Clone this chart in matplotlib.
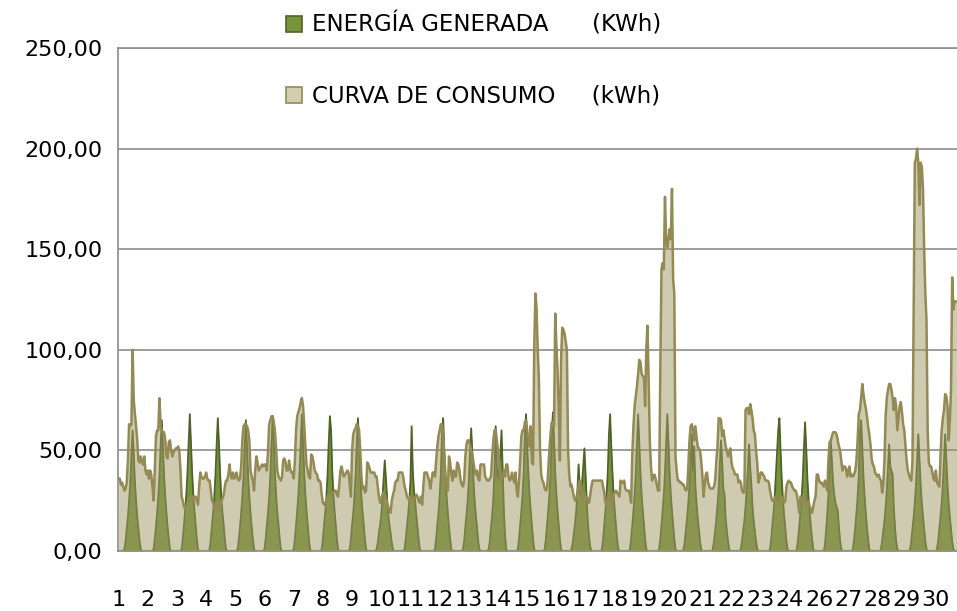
"""
Energía generada frente a curva de consumo, 30 días en resolución horaria.
"""

import numpy as np
import matplotlib
matplotlib.use("Agg")
import matplotlib.pyplot as plt
from matplotlib.patches import Patch

# ------------------------------------------------------------------
# valores horarios (kWh), una fila por día
generada = [
    0, 0, 0, 0, 0, 1, 5, 11, 17, 25, 34, 48, 60, 48, 34, 25, 17, 11, 5, 1, 0, 0, 0, 0,     # 1
    0, 0, 0, 0, 0, 0, 1, 6, 12, 19, 27, 37, 52, 65, 52, 37, 27, 19, 12, 6, 1, 0, 0, 0,     # 2
    0, 0, 0, 0, 0, 0, 1, 6, 13, 20, 28, 39, 54, 68, 54, 39, 28, 20, 13, 6, 1, 0, 0, 0,     # 3
    0, 0, 0, 0, 0, 0, 1, 6, 13, 19, 27, 38, 53, 66, 53, 38, 27, 19, 13, 6, 1, 0, 0, 0,     # 4
    0, 0, 0, 0, 0, 0, 1, 6, 12, 19, 27, 37, 52, 65, 52, 37, 27, 19, 12, 6, 1, 0, 0, 0,     # 5
    0, 0, 0, 0, 0, 1, 6, 13, 19, 27, 38, 54, 67, 54, 38, 27, 19, 13, 6, 1, 0, 0, 0, 0,     # 6
    0, 0, 0, 0, 0, 0, 1, 6, 13, 20, 28, 39, 54, 68, 54, 39, 28, 20, 13, 6, 1, 0, 0, 0,     # 7
    0, 0, 0, 0, 0, 0, 1, 6, 13, 19, 27, 38, 54, 67, 60, 40, 28, 20, 13, 6, 1, 0, 0, 0,     # 8
    0, 0, 0, 0, 0, 0, 1, 6, 13, 19, 27, 38, 53, 66, 53, 38, 27, 19, 13, 6, 1, 0, 0, 0,     # 9
    0, 0, 0, 0, 0, 1, 4, 9, 13, 18, 26, 36, 45, 36, 26, 18, 13, 9, 4, 1, 0, 0, 0, 0,       # 10
    0, 0, 0, 0, 0, 1, 6, 12, 18, 25, 35, 62, 40, 30, 25, 18, 12, 6, 1, 0, 0, 0, 0, 0,      # 11
    0, 0, 0, 0, 0, 0, 0, 1, 6, 13, 19, 27, 38, 58, 66, 50, 36, 27, 19, 12, 6, 1, 0, 0,     # 12
    0, 0, 0, 0, 0, 0, 0, 1, 5, 12, 18, 25, 35, 49, 61, 49, 35, 25, 18, 12, 5, 1, 0, 0,     # 13
    0, 0, 0, 0, 0, 1, 5, 12, 18, 26, 40, 62, 42, 36, 40, 48, 60, 40, 20, 8, 1, 0, 0, 0,    # 14
    0, 0, 0, 0, 0, 0, 1, 6, 13, 20, 28, 39, 58, 68, 52, 39, 28, 20, 13, 6, 1, 0, 0, 0,     # 15
    0, 0, 0, 0, 0, 1, 6, 13, 20, 28, 39, 55, 69, 55, 39, 28, 20, 13, 6, 1, 0, 0, 0, 0,     # 16
    0, 0, 0, 0, 1, 4, 9, 14, 20, 30, 43, 32, 28, 34, 42, 51, 38, 25, 14, 7, 2, 0, 0, 0,    # 17
    0, 0, 0, 0, 0, 0, 1, 6, 13, 20, 28, 39, 58, 68, 52, 39, 28, 20, 13, 6, 1, 0, 0, 0,     # 18
    0, 0, 0, 0, 0, 0, 1, 6, 13, 20, 28, 39, 54, 68, 54, 39, 28, 20, 13, 6, 1, 0, 0, 0,     # 19
    0, 0, 0, 0, 0, 0, 0, 1, 6, 13, 20, 28, 39, 54, 68, 54, 39, 28, 20, 13, 6, 1, 0, 0,     # 20
    0, 0, 0, 0, 1, 5, 11, 17, 24, 33, 46, 58, 40, 52, 33, 24, 17, 11, 5, 1, 0, 0, 0, 0,    # 21
    0, 0, 0, 0, 0, 1, 5, 10, 16, 23, 31, 44, 55, 44, 31, 28, 16, 10, 5, 1, 0, 0, 0, 0,     # 22
    0, 0, 0, 0, 0, 1, 5, 10, 15, 22, 30, 42, 53, 42, 33, 22, 15, 10, 5, 1, 0, 0, 0, 0,     # 23
    0, 0, 0, 0, 0, 0, 1, 6, 13, 19, 27, 38, 50, 60, 66, 50, 36, 26, 18, 12, 5, 1, 0, 0,    # 24
    0, 0, 0, 0, 0, 1, 6, 12, 19, 26, 36, 51, 64, 51, 36, 26, 19, 12, 6, 1, 0, 0, 0, 0,     # 25
    0, 0, 0, 0, 0, 3, 10, 18, 28, 42, 55, 44, 34, 28, 24, 22, 20, 12, 5, 1, 0, 0, 0, 0,    # 26
    0, 0, 0, 0, 0, 1, 6, 12, 19, 27, 37, 60, 65, 52, 37, 27, 19, 12, 6, 1, 0, 0, 0, 0,     # 27
    0, 0, 0, 0, 0, 1, 5, 10, 15, 22, 30, 42, 53, 42, 40, 38, 22, 12, 5, 1, 0, 0, 0, 0,     # 28
    0, 0, 0, 0, 0, 0, 1, 5, 11, 17, 24, 33, 46, 58, 46, 33, 24, 17, 11, 5, 1, 0, 0, 0,     # 29
    0, 0, 0, 0, 0, 1, 5, 11, 17, 24, 33, 46, 58, 46, 33, 24, 17, 11, 5, 1, 0, 0, 0, 0,     # 30
]

consumo = [
    36, 36, 33, 34, 32, 30, 31, 34, 45, 63, 62, 63, 100, 75, 68, 62, 55, 45, 44, 47, 44, 43, 47, 40,   # 1
    38, 40, 36, 40, 38, 32, 25, 40, 57, 60, 60, 76, 62, 60, 59, 59, 55, 47, 46, 54, 55, 50, 47, 49,    # 2
    50, 51, 51, 52, 50, 40, 27, 25, 22, 21, 22, 24, 25, 26, 27, 26, 27, 27, 27, 25, 23, 32, 39, 37,    # 3
    36, 36, 37, 39, 36, 35, 35, 30, 25, 24, 22, 20, 24, 25, 21, 22, 25, 26, 28, 32, 35, 35, 38, 43,    # 4
    38, 36, 39, 36, 37, 39, 36, 35, 36, 42, 55, 62, 63, 63, 62, 60, 55, 40, 37, 35, 30, 40, 47, 44,    # 5
    40, 41, 42, 43, 42, 43, 43, 40, 50, 63, 65, 67, 67, 64, 59, 50, 40, 37, 36, 35, 37, 45, 46, 44,    # 6
    40, 40, 45, 41, 39, 39, 36, 45, 60, 67, 69, 71, 74, 76, 72, 63, 52, 43, 40, 37, 36, 48, 47, 44,    # 7
    40, 39, 38, 35, 35, 34, 28, 24, 23, 24, 25, 27, 28, 27, 28, 29, 29, 30, 30, 28, 27, 33, 40, 42,    # 8
    39, 37, 38, 39, 40, 39, 33, 27, 50, 58, 60, 61, 63, 62, 60, 50, 37, 31, 32, 29, 30, 44, 43, 41,    # 9
    39, 39, 39, 39, 37, 37, 32, 27, 24, 26, 28, 29, 28, 26, 24, 22, 20, 19, 25, 28, 30, 34, 35, 35,    # 10
    39, 39, 39, 39, 36, 32, 30, 27, 26, 25, 27, 25, 24, 26, 27, 28, 27, 25, 24, 27, 23, 32, 39, 39,    # 11
    39, 37, 35, 31, 35, 39, 39, 37, 45, 52, 57, 60, 63, 63, 58, 47, 37, 32, 30, 47, 44, 38, 35, 40,    # 12
    37, 37, 44, 43, 40, 35, 33, 32, 35, 47, 53, 55, 55, 53, 50, 48, 44, 40, 38, 40, 36, 35, 43, 43,    # 13
    43, 43, 37, 36, 35, 35, 36, 37, 47, 55, 60, 60, 55, 50, 45, 34, 36, 38, 40, 37, 43, 43, 37, 35,    # 14
    36, 39, 36, 34, 39, 30, 27, 35, 45, 57, 60, 60, 64, 65, 60, 55, 52, 62, 44, 43, 100, 128, 121, 100,  # 15
    85, 50, 38, 35, 34, 31, 30, 31, 40, 50, 58, 64, 64, 62, 118, 102, 90, 70, 45, 95, 111, 110, 108, 104,  # 16
    100, 50, 38, 32, 33, 30, 27, 25, 26, 29, 32, 35, 32, 26, 27, 29, 25, 27, 25, 24, 28, 32, 35, 35,   # 17
    35, 35, 35, 35, 35, 35, 35, 32, 29, 24, 23, 26, 29, 25, 22, 25, 28, 29, 30, 29, 28, 27, 35, 34,    # 18
    34, 35, 31, 30, 30, 30, 28, 24, 48, 62, 72, 77, 82, 88, 95, 94, 88, 87, 86, 72, 100, 112, 85, 55,  # 19
    42, 35, 37, 38, 36, 33, 30, 30, 90, 140, 143, 140, 176, 155, 151, 155, 160, 155, 180, 135, 128, 47, 40, 35,  # 20
    35, 34, 34, 33, 33, 31, 30, 31, 42, 55, 62, 63, 60, 55, 62, 57, 52, 51, 50, 45, 38, 27, 33, 38,    # 21
    39, 34, 32, 31, 31, 31, 32, 35, 45, 52, 66, 66, 65, 57, 60, 56, 52, 50, 47, 48, 51, 44, 41, 40,    # 22
    38, 38, 38, 34, 35, 34, 30, 29, 29, 70, 71, 71, 68, 73, 70, 66, 60, 58, 50, 44, 34, 36, 39, 39,    # 23
    38, 37, 35, 35, 35, 34, 30, 27, 25, 25, 26, 27, 24, 24, 24, 25, 27, 25, 24, 25, 32, 34, 35, 34,    # 24
    34, 32, 31, 30, 30, 28, 24, 19, 27, 26, 25, 28, 24, 22, 24, 25, 22, 21, 19, 22, 25, 27, 38, 38,    # 25
    35, 34, 34, 33, 32, 35, 33, 30, 45, 54, 55, 57, 59, 59, 59, 58, 55, 52, 50, 45, 40, 42, 42, 41,    # 26
    37, 40, 42, 37, 38, 37, 38, 40, 45, 55, 68, 70, 76, 83, 78, 74, 71, 67, 62, 58, 53, 46, 43, 42,    # 27
    39, 38, 37, 38, 36, 35, 29, 33, 45, 67, 76, 80, 83, 83, 80, 76, 70, 76, 72, 60, 66, 72, 74, 69,    # 28
    63, 60, 52, 45, 40, 38, 36, 35, 45, 120, 193, 195, 200, 193, 172, 193, 191, 180, 150, 128, 115, 60, 44, 42,  # 29
    42, 39, 36, 35, 40, 34, 33, 32, 47, 60, 66, 70, 78, 77, 72, 55, 65, 80, 136, 120, 124, 124, 124, 124,  # 30
]

HORAS_DIA = 24
PASO_ETIQ = 25          # Excel pone una etiqueta cada 25 categorías
Y_TICKS = [0, 50, 100, 150, 200, 250]
ETIQ_GEN = "ENERGÍA GENERADA      (KWh)"
ETIQ_CON = "CURVA DE CONSUMO     (kWh)"

VERDE, VERDE_BORDE = "#77933C", "#4F6228"
BEIGE, BEIGE_BORDE = "#9E9964", "#948A54"
GRIS = "#8C8C8C"

# ------------------------------------------------------------------
W, H = 957, 611
fig = plt.figure(figsize=(W / 100, H / 100), dpi=100)
ax = fig.add_axes([118 / W, 60 / H, 840.6 / W, 503 / H])

horas = np.arange(len(consumo))
ax.fill_between(horas, generada, color=VERDE, lw=0, zorder=2)
ax.plot(horas, generada, color=VERDE_BORDE, lw=1.3, zorder=2.2)
ax.fill_between(horas, consumo, color=BEIGE, alpha=0.5, lw=0, zorder=3)
ax.plot(horas, consumo, color=BEIGE_BORDE, lw=1.8, zorder=3.2)

ax.set_xlim(-0.5, len(consumo) - 0.5)
ax.set_ylim(0, 250)
ax.set_axisbelow(True)
ax.yaxis.grid(True, color=GRIS, lw=1.2)

pos = horas[::PASO_ETIQ]
ax.set_xticks(pos)
ax.set_xticklabels([str(h // HORAS_DIA + 1) for h in pos])
ax.set_yticks(Y_TICKS)
ax.set_yticklabels([f"{v:.2f}".replace(".", ",") for v in Y_TICKS])
ax.tick_params(axis="both", length=0, labelsize=16, colors="black")
ax.tick_params(axis="x", pad=28)
ax.tick_params(axis="y", pad=11)

for s in ("left", "bottom", "top"):
    ax.spines[s].set_color(GRIS)
    ax.spines[s].set_linewidth(1.2)
ax.spines["right"].set_visible(False)

handles = [Patch(facecolor=VERDE, edgecolor=VERDE_BORDE, lw=1.2),
           Patch(facecolor="#D2CEB2", edgecolor=BEIGE_BORDE, lw=1.2)]
ax.legend(handles, [ETIQ_GEN, ETIQ_CON], loc="upper left",
          bbox_to_anchor=(286 / W, 1 - 13 / H), bbox_transform=fig.transFigure,
          frameon=False, fontsize=16.5, handlelength=0.68, handleheight=0.68,
          handletextpad=0.45, labelspacing=2.08, borderpad=0, borderaxespad=0)

fig.savefig("out.png", dpi=100)
